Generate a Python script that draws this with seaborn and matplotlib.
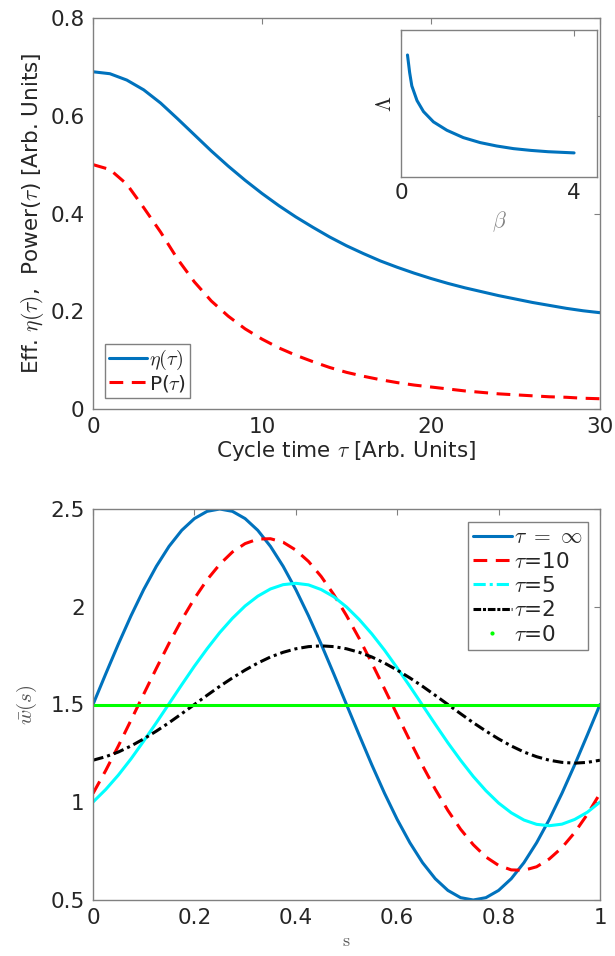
import matplotlib
matplotlib.use("Agg")
import matplotlib.pyplot as plt
from matplotlib.lines import Line2D
from matplotlib.ticker import FuncFormatter
import numpy as np
import seaborn as sns

# ------------------------------
# Data
# ------------------------------
# top panel: efficiency and power vs cycle time
tau = list(range(31))
eta = [0.690, 0.686, 0.673, 0.653, 0.626, 0.594, 0.561, 0.528, 0.497, 0.468, 0.441,
       0.416, 0.393, 0.372, 0.352, 0.334, 0.318, 0.303, 0.290, 0.278, 0.267,
       0.257, 0.248, 0.240, 0.232, 0.225, 0.218, 0.212, 0.206, 0.201, 0.197]
power = [0.500, 0.490, 0.460, 0.412, 0.362, 0.307, 0.260, 0.221, 0.190, 0.164, 0.143,
         0.125, 0.110, 0.097, 0.085, 0.075, 0.067, 0.060, 0.054, 0.049, 0.045,
         0.041, 0.037, 0.034, 0.031, 0.029, 0.027, 0.025, 0.024, 0.022, 0.021]

# inset: Lambda vs beta (no y scale shown, normalised 0..1)
beta = [0.15, 0.2, 0.25, 0.37, 0.52, 0.75, 1.06, 1.44, 1.83, 2.21, 2.6, 3.0, 3.4, 4.0]
lam = [0.83, 0.71, 0.62, 0.52, 0.445, 0.375, 0.318, 0.268, 0.234, 0.211, 0.193, 0.181, 0.172, 0.164]

# bottom panel: w(s) for several cycle times
s_vals = np.round(np.arange(41) * 0.025, 3)
w_inf = [1.500, 1.656, 1.809, 1.954, 2.088, 2.207, 2.309, 2.391, 2.451, 2.488, 2.500,
         2.488, 2.451, 2.391, 2.309, 2.207, 2.088, 1.954, 1.809, 1.656, 1.500,
         1.344, 1.191, 1.046, 0.912, 0.793, 0.691, 0.609, 0.549, 0.512, 0.500,
         0.512, 0.549, 0.609, 0.691, 0.793, 0.912, 1.046, 1.191, 1.344, 1.500]
w_10 = [1.045, 1.162, 1.288, 1.420, 1.553, 1.685, 1.813, 1.933, 2.042, 2.138, 2.217,
        2.280, 2.323, 2.346, 2.348, 2.330, 2.290, 2.232, 2.155, 2.062, 1.955,
        1.838, 1.712, 1.580, 1.447, 1.315, 1.187, 1.067, 0.958, 0.862, 0.783,
        0.720, 0.677, 0.654, 0.652, 0.670, 0.710, 0.768, 0.845, 0.938, 1.045]
w_5 = [1.001, 1.065, 1.139, 1.222, 1.313, 1.407, 1.504, 1.601, 1.696, 1.785, 1.868,
       1.941, 2.004, 2.054, 2.091, 2.113, 2.120, 2.112, 2.088, 2.051, 1.999,
       1.935, 1.861, 1.778, 1.687, 1.593, 1.496, 1.399, 1.304, 1.215, 1.132,
       1.059, 0.996, 0.946, 0.909, 0.887, 0.880, 0.888, 0.912, 0.949, 1.001]
w_2 = [1.215, 1.233, 1.257, 1.288, 1.324, 1.364, 1.407, 1.453, 1.500, 1.547, 1.593,
       1.636, 1.676, 1.712, 1.743, 1.767, 1.785, 1.796, 1.800, 1.796, 1.785,
       1.767, 1.743, 1.712, 1.676, 1.636, 1.593, 1.547, 1.500, 1.453, 1.407,
       1.364, 1.324, 1.288, 1.257, 1.233, 1.215, 1.204, 1.200, 1.204, 1.215]
s_flat = [0.0, 1.0]
w_0 = [1.5, 1.5]

# ------------------------------
# Style
# ------------------------------
sns.set_style("white")
plt.rcParams['font.family'] = ['DejaVu Sans']
plt.rcParams['mathtext.fontset'] = 'cm'
plt.rcParams['axes.edgecolor'] = '#808080'
plt.rcParams['axes.linewidth'] = 1.0
plt.rcParams['xtick.color'] = '#808080'
plt.rcParams['ytick.color'] = '#808080'
plt.rcParams['xtick.labelcolor'] = '#262626'
plt.rcParams['ytick.labelcolor'] = '#262626'

BLUE = '#0072BD'
RED = '#FF0000'
CYAN = '#00FFFF'
GREEN = '#00FF00'
LW = 2.2
TXT = '#262626'
FS = 15.5

fmt = FuncFormatter(lambda v, p: f"{v:g}")


def matlab_axes(ax):
    ax.tick_params(direction='in', top=True, right=True, length=4, width=0.8,
                   labelsize=FS, pad=6)
    for sp in ax.spines.values():
        sp.set_visible(True)
        sp.set_color('#808080')


fig = plt.figure(figsize=(6.15, 9.56), dpi=100)

# ------------------------------
# Top panel
# ------------------------------
ax1 = fig.add_axes([93 / 615, 1 - 409 / 956, 507 / 615, 391 / 956])
red_dash = (0, (4.5, 2.8))
sns.lineplot(x=tau, y=eta, ax=ax1, color=BLUE, linewidth=LW)
sns.lineplot(x=tau, y=power, ax=ax1, color=RED, linewidth=LW, linestyle=red_dash)
ax1.set_xlim(0, 30)
ax1.set_ylim(0, 0.8)
ax1.set_xticks([0, 10, 20, 30])
ax1.set_yticks([0, 0.2, 0.4, 0.6, 0.8])
ax1.xaxis.set_major_formatter(fmt)
ax1.yaxis.set_major_formatter(fmt)
matlab_axes(ax1)
ax1.set_xlabel(r'Cycle time $\tau$ [Arb. Units]', fontsize=FS, color=TXT, labelpad=1)
ax1.set_ylabel(r'Eff. $\eta(\tau)$,  Power($\tau$) [Arb. Units]', fontsize=FS, color=TXT,
               labelpad=3)

h_top = [Line2D([], [], color=BLUE, lw=LW),
         Line2D([], [], color=RED, lw=LW, linestyle=red_dash)]
leg1 = ax1.legend(h_top, [r'$\eta(\tau)$', r'P($\tau$)'], loc='lower left',
                  bbox_to_anchor=(0.024, 0.028), borderaxespad=0, fontsize=14.5,
                  handlelength=1.9, handletextpad=0.1, borderpad=0.2, labelspacing=0.05,
                  fancybox=False, frameon=True, edgecolor='#808080', framealpha=1)
leg1.get_frame().set_linewidth(1.0)

# inset
axi = fig.add_axes([401 / 615, 1 - 177 / 956, 196 / 615, 147 / 956])
sns.lineplot(x=beta, y=lam, ax=axi, color=BLUE, linewidth=LW)
axi.set_xlim(0, 4.53)
axi.set_ylim(0, 1)
axi.set_xticks([0, 4])
axi.set_yticks([])
axi.xaxis.set_major_formatter(fmt)
matlab_axes(axi)
axi.tick_params(right=False, left=False, pad=4)
axi.set_xlabel(r'$\beta$', fontsize=FS, color='#808080', labelpad=5)
axi.set_ylabel(r'$\Lambda$', fontsize=FS, color=TXT, labelpad=4)

# ------------------------------
# Bottom panel
# ------------------------------
ax2 = fig.add_axes([93 / 615, 1 - 900 / 956, 507 / 615, 391 / 956])
blk_dashdot = (0, (3.5, 1.3, 1.0, 1.3))
sns.lineplot(x=s_vals, y=w_inf, ax=ax2, color=BLUE, linewidth=LW)
sns.lineplot(x=s_vals, y=w_10, ax=ax2, color=RED, linewidth=LW, linestyle=red_dash)
sns.lineplot(x=s_vals, y=w_5, ax=ax2, color=CYAN, linewidth=LW)
sns.lineplot(x=s_vals, y=w_2, ax=ax2, color='black', linewidth=LW, linestyle=blk_dashdot)
sns.lineplot(x=s_flat, y=w_0, ax=ax2, color=GREEN, linewidth=LW)
ax2.set_xlim(0, 1)
ax2.set_ylim(0.5, 2.5)
ax2.set_xticks([0, 0.2, 0.4, 0.6, 0.8, 1])
ax2.set_yticks([0.5, 1, 1.5, 2, 2.5])
ax2.xaxis.set_major_formatter(fmt)
ax2.yaxis.set_major_formatter(fmt)
matlab_axes(ax2)
ax2.set_xlabel(r'$\mathrm{s}$', fontsize=13, color='#555555', labelpad=3)
ax2.set_ylabel(r'$\bar{w}(s)$', fontsize=15, color='#555555', labelpad=8)

h_bot = [Line2D([], [], color=BLUE, lw=LW),
         Line2D([], [], color=RED, lw=LW, linestyle=red_dash),
         Line2D([], [], color=CYAN, lw=LW, linestyle=(0, (4.0, 1.3, 1.0, 1.3))),
         Line2D([], [], color='black', lw=LW, linestyle=(0, (2.5, 0.6, 1.0, 0.6))),
         Line2D([], [], color=GREEN, lw=0, marker='.', markersize=4)]
labels_bot = [r'$\tau\ =\ \infty$', r'$\tau$=10', r'$\tau$=5', r'$\tau$=2', r'$\tau$=0']
leg2 = ax2.legend(h_bot, labels_bot, loc='upper right', bbox_to_anchor=(0.976, 0.967),
                  borderaxespad=0, fontsize=FS, handlelength=1.8, handletextpad=0.1,
                  borderpad=0.25, labelspacing=0.2, numpoints=1,
                  fancybox=False, frameon=True, edgecolor='#808080', framealpha=1)
leg2.get_frame().set_linewidth(1.0)

fig.savefig('out.png', dpi=100, facecolor='white')
